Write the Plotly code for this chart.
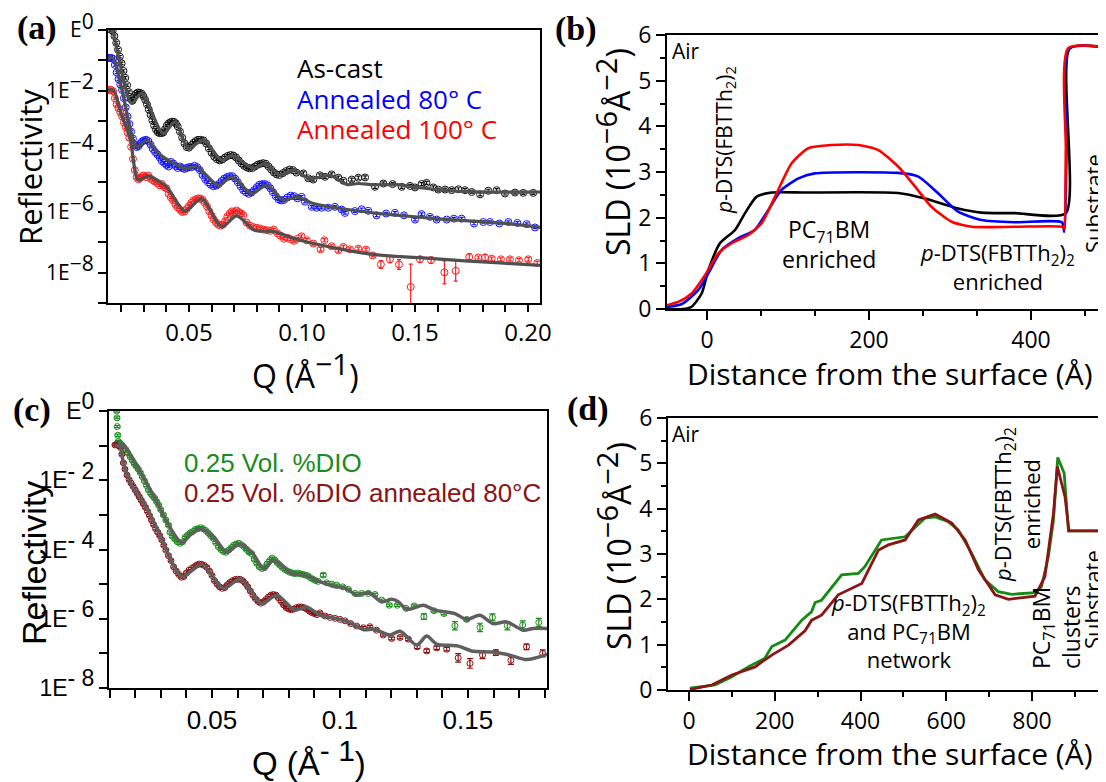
import numpy as np
import plotly.graph_objects as go

W, H = 1106, 782
OFF = 8  # the page body margin shifts the figure by 8 px; positions below are screen pixels

# ---------------- Panel (a): reflectivity, log10 values ----------------
a_q_black = [0.0155,0.0162,0.0170,0.0178,0.0186,0.0194,0.0202,0.0210,0.0218,0.0226,0.0234,0.0242,0.0250,0.0258,0.0266,0.0274,0.0282,0.0290,0.0298,0.0306,0.0314,0.0322,0.0330,0.0338,0.0346,0.0354,0.0362,0.0370,0.0378,0.0386,0.0394,0.0402,0.0410,0.0418,0.0426,0.0434,0.0442,0.0450,0.0460,0.0470,0.0480,0.0490,0.0500,0.0510,0.0520,0.0530,0.0540,0.0552,0.0564,0.0576,0.0588,0.0600,0.0612,0.0624,0.0636,0.0648,0.0660,0.0672,0.0684,0.0696,0.0708,0.0720,0.0732,0.0744,0.0756,0.0768,0.0780,0.0792,0.0804,0.0816,0.0828,0.0840,0.0852,0.0864,0.0876,0.0888,0.0900,0.0915,0.0930,0.0945,0.0960,0.0975,
             0.1006,0.1028,0.1050,0.1079,0.1102,0.1131,0.1161,0.1183,0.1220,0.1249,0.1279,0.1323,0.1360,0.1401,0.1441,0.1478,0.1500,0.1529,0.1551,0.1581,0.1603,0.1633,0.1662,0.1692,0.1721,0.1751,0.1788,0.1824,0.1861,0.1898,0.1942,0.1979,0.2023]
a_lg_black = [0.0,-0.02,-0.20,-0.42,-0.65,-0.88,-1.10,-1.35,-1.58,-1.82,-2.05,-2.28,-2.33,-2.18,-2.10,-2.06,-2.07,-2.10,-2.18,-2.30,-2.45,-2.62,-2.80,-2.98,-3.15,-3.28,-3.37,-3.40,-3.40,-3.38,-3.27,-3.15,-3.08,-3.04,-3.02,-3.03,-3.08,-3.18,-3.35,-3.55,-3.74,-3.86,-3.88,-3.80,-3.72,-3.66,-3.62,-3.62,-3.64,-3.74,-3.90,-4.05,-4.18,-4.26,-4.30,-4.27,-4.20,-4.15,-4.12,-4.14,-4.20,-4.30,-4.40,-4.48,-4.53,-4.56,-4.55,-4.50,-4.44,-4.41,-4.39,-4.41,-4.50,-4.60,-4.70,-4.76,-4.78,-4.72,-4.65,-4.60,-4.62,-4.70,
              -4.73,-4.89,-4.93,-4.79,-4.84,-4.76,-4.87,-4.97,-4.93,-4.87,-4.86,-5.17,-5.06,-5.08,-5.17,-5.14,-5.19,-5.08,-5.04,-5.19,-5.26,-5.26,-5.28,-5.25,-5.28,-5.34,-5.42,-5.30,-5.28,-5.39,-5.36,-5.37,-5.37]

a_q_blue = [0.0140,0.0148,0.0156,0.0164,0.0172,0.0180,0.0188,0.0196,0.0204,0.0212,0.0220,0.0228,0.0236,0.0244,0.0252,0.0260,0.0268,0.0276,0.0284,0.0292,0.0300,0.0310,0.0320,0.0330,0.0340,0.0350,0.0360,0.0370,0.0380,0.0390,0.0400,0.0410,0.0420,0.0430,0.0440,0.0450,0.0460,0.0470,0.0480,0.0490,0.0500,0.0512,0.0524,0.0536,0.0548,0.0560,0.0572,0.0584,0.0596,0.0608,0.0620,0.0632,0.0644,0.0656,0.0668,0.0680,0.0692,0.0704,0.0716,0.0728,0.0740,0.0752,0.0764,0.0776,0.0788,0.0800,0.0812,0.0824,0.0836,0.0848,0.0860,0.0872,0.0884,0.0896,0.0908,0.0920,0.0935,0.0950,0.0965,0.0980,
            0.0998,0.1013,0.1043,0.1065,0.1087,0.1116,0.1146,0.1175,0.1190,0.1234,0.1264,0.1293,0.1330,0.1372,0.1411,0.1451,0.1500,0.1529,0.1566,0.1596,0.1640,0.1672,0.1706,0.1761,0.1802,0.1832,0.1873,0.1913,0.1953,0.1994,0.2031]
a_lg_blue = [-0.93,-0.92,-0.92,-0.95,-1.15,-1.40,-1.62,-1.80,-1.98,-2.25,-2.55,-2.85,-3.10,-3.35,-3.58,-3.78,-3.86,-3.83,-3.74,-3.68,-3.64,-3.62,-3.66,-3.78,-3.92,-4.02,-4.10,-4.20,-4.32,-4.38,-4.45,-4.50,-4.35,-4.40,-4.48,-4.55,-4.50,-4.55,-4.58,-4.55,-4.52,-4.52,-4.48,-4.52,-4.62,-4.78,-4.92,-5.02,-5.10,-5.15,-5.13,-5.08,-4.98,-4.90,-4.85,-4.82,-4.82,-4.90,-5.02,-5.15,-5.28,-5.35,-5.40,-5.36,-5.28,-5.18,-5.10,-5.08,-5.08,-5.12,-5.22,-5.35,-5.48,-5.58,-5.62,-5.60,-5.52,-5.46,-5.48,-5.55,
             -5.50,-5.66,-5.83,-5.86,-5.86,-5.86,-5.83,-5.92,-6.03,-5.97,-5.91,-5.96,-6.11,-6.05,-6.03,-6.11,-6.25,-6.07,-6.16,-6.25,-6.25,-6.22,-6.22,-6.38,-6.33,-6.33,-6.38,-6.33,-6.36,-6.40,-6.51]

a_q_red = [0.0140,0.0148,0.0156,0.0164,0.0172,0.0180,0.0188,0.0196,0.0204,0.0212,0.0220,0.0228,0.0236,0.0244,0.0252,0.0260,0.0268,0.0276,0.0284,0.0292,0.0300,0.0310,0.0320,0.0330,0.0340,0.0350,0.0360,0.0370,0.0380,0.0390,0.0400,0.0410,0.0420,0.0430,0.0440,0.0450,0.0460,0.0470,0.0480,0.0490,0.0500,0.0510,0.0520,0.0530,0.0540,0.0550,0.0560,0.0570,0.0580,0.0590,0.0600,0.0610,0.0620,0.0630,0.0640,0.0650,0.0660,0.0670,0.0680,0.0690,0.0700,0.0710,0.0720,0.0730,0.0740,0.0755,0.0770,0.0785,0.0800,0.0815,0.0830,0.0845,0.0860,0.0875,0.0890,0.0905,0.0920,0.0935,0.0950,0.0965,0.0980,
           0.0998,0.1021,0.1050,0.1082,0.1099,0.1131,0.1161,0.1183,0.1212,0.1249,0.1283,0.1313,0.1349,0.1389,0.1429,0.1481,0.1522,0.1571,0.1630,0.1680,0.1740,0.1780,0.1810,0.1839,0.1880,0.1920,0.1960,0.2001,0.2041]
a_lg_red = [-1.98,-1.97,-1.98,-2.02,-2.25,-2.45,-2.58,-2.72,-2.85,-3.05,-3.20,-3.38,-3.55,-3.85,-4.25,-4.62,-4.85,-4.92,-4.88,-4.82,-4.80,-4.85,-4.80,-4.90,-4.95,-5.00,-5.05,-5.12,-5.08,-5.18,-5.22,-5.40,-5.52,-5.62,-5.75,-5.85,-5.92,-6.00,-5.98,-5.90,-5.80,-5.70,-5.62,-5.58,-5.55,-5.56,-5.60,-5.70,-5.82,-5.98,-6.12,-6.25,-6.35,-6.42,-6.45,-6.42,-6.30,-6.15,-6.05,-5.98,-6.00,-5.95,-6.00,-6.05,-6.10,-6.35,-6.45,-6.50,-6.52,-6.55,-6.58,-6.60,-6.62,-6.58,-6.70,-6.78,-6.88,-6.85,-6.90,-6.95,-6.88,
            -6.80,-6.93,-7.04,-7.23,-6.93,-7.13,-7.26,-7.15,-7.23,-7.21,-7.24,-7.43,-7.73,-7.56,-7.73,-8.47,-7.56,-7.59,-7.99,-7.94,-7.48,-7.50,-7.50,-7.54,-7.56,-7.56,-7.59,-7.56,-7.68]
# error bars (decades) for the high-Q points of each series
a_err_black_hi = [0.05]*33
a_err_blue_hi = [0.04]*31
a_err_red_hi = [0.05,0.05,0.05,0.06,0.05,0.05,0.06,0.05,0.05,0.05,0.05,0.05,0.13,0.11,0.16,0.75,0.10,0.10,0.38,0.34,0.10,0.05,0.10,0.05,0.05,0.05,0.05,0.06,0.05]

# fits (a)
a_fit_q_black = [0.0155,0.0162,0.0246,0.0290,0.0386,0.0438,0.0497,0.0563,0.0645,0.0689,0.0785,0.0836,0.0903,0.0961,0.1035,0.1124,0.1198,0.1250,0.1316,0.1420,0.1522,0.1729,0.2053]
a_fit_lg_black = [0.0,-0.05,-2.42,-2.09,-3.41,-3.03,-3.90,-3.63,-4.29,-4.13,-4.56,-4.40,-4.79,-4.62,-4.90,-4.79,-5.09,-5.06,-5.10,-5.10,-5.20,-5.33,-5.34]
a_fit_q_blue = [0.0140,0.0165,0.0202,0.0269,0.0313,0.0364,0.0423,0.0482,0.0534,0.0630,0.0689,0.0777,0.0844,0.0917,0.0977,0.1050,0.1287,0.1580,0.1876,0.2053]
a_fit_lg_blue = [-0.93,-0.93,-1.92,-3.85,-3.63,-4.07,-4.35,-4.56,-4.51,-5.12,-4.84,-5.39,-5.12,-5.61,-5.50,-5.72,-6.00,-6.21,-6.36,-6.51]
a_fit_q_red = [0.0140,0.0165,0.0202,0.0239,0.0276,0.0320,0.0400,0.0482,0.0556,0.0645,0.0711,0.0790,0.0873,0.0991,0.1287,0.1580,0.1876,0.2053]
a_fit_lg_red = [-1.98,-1.98,-2.81,-3.57,-4.95,-4.82,-5.17,-5.97,-5.56,-6.49,-6.13,-6.60,-6.64,-6.93,-7.37,-7.54,-7.68,-7.76]

# ---------------- Panel (b): SLD profiles ----------------
b_z_black = [-50,-30,-19,-6.6,1.6,16,34.6,46.9,61.3,79.8,120,236,269,310,339,380,443,448,500]
b_sld_black = [0.0,0.0,0.05,0.34,0.85,1.44,1.73,2.10,2.46,2.55,2.55,2.54,2.42,2.20,2.11,2.10,2.10,5.71,5.71]
b_z_blue = [-52,-31,-10.7,1.6,18,38.7,59,75.7,92,113,133,236,261,285.6,310,339,380,438,441,444,447,500]
b_sld_blue = [0.04,0.11,0.42,0.78,1.29,1.55,1.73,2.17,2.61,2.86,2.97,2.98,2.90,2.53,2.13,1.95,1.90,1.90,1.69,3.5,5.71,5.71]
b_z_red = [-52,-35,-19,-2.5,14,30.5,51,67.5,84,104.5,125,154,187,211.5,236,257,277,302,327,380,439,441,443,446,500]
b_sld_red = [0.07,0.16,0.34,0.74,1.22,1.44,1.62,1.88,2.46,3.19,3.52,3.59,3.59,3.48,3.12,2.68,2.24,1.91,1.80,1.80,1.80,1.75,3.5,5.71,5.71]

# ---------------- Panel (c): reflectivity, log10 values ----------------
c_q_green = [0.0128,0.0129,0.0130,0.0132,0.0134,0.0140,0.0148,0.0156,0.0164,0.0172,0.0180,0.0188,0.0196,0.0204,0.0212,0.0220,0.0228,0.0236,0.0244,0.0252,0.0260,0.0268,0.0276,0.0284,0.0292,0.0300,0.0310,0.0320,0.0330,0.0336,0.0345,0.0355,0.0365,0.0375,0.0385,0.0395,0.0405,0.0415,0.0425,0.0435,0.0445,0.0455,0.0465,0.0475,0.0485,0.0495,0.0505,0.0515,0.0525,0.0535,0.0545,0.0555,0.0565,0.0575,0.0585,0.0595,0.0605,0.0615,0.0625,0.0635,0.0645,0.0655,0.0665,0.0675,0.0685,0.0695,0.0705,0.0715,0.0725,0.0735,0.0745,0.0755,0.0765,0.0775,0.0785,0.0795,0.0805,0.0815,0.0825,0.0835,0.0845,0.0855,0.0865,0.0875,0.0885,0.0895,0.0905,0.0915,
             0.0935,0.0948,0.0968,0.0987,0.1011,0.1033,0.1059,0.1085,0.1111,0.1137,0.1163,0.1193,0.1224,0.1258,0.1290,0.1328,0.1367,0.1406,0.1449,0.1495,0.1547,0.1596,0.1654,0.1714,0.1777]
c_lg_green = [0.0,-0.2,-0.45,-0.7,-0.88,-0.92,-0.98,-1.05,-1.12,-1.22,-1.32,-1.42,-1.52,-1.60,-1.68,-1.78,-1.90,-2.02,-2.15,-2.28,-2.38,-2.45,-2.52,-2.62,-2.72,-2.85,-3.00,-3.15,-3.30,-3.50,-3.62,-3.70,-3.78,-3.82,-3.78,-3.65,-3.58,-3.52,-3.48,-3.42,-3.40,-3.37,-3.40,-3.45,-3.52,-3.60,-3.68,-3.80,-3.92,-4.00,-4.06,-4.08,-4.02,-3.95,-3.88,-3.84,-3.82,-3.86,-3.92,-4.00,-4.08,-4.12,-4.28,-4.40,-4.50,-4.55,-4.52,-4.42,-4.32,-4.25,-4.30,-4.38,-4.45,-4.52,-4.58,-4.62,-4.66,-4.68,-4.70,-4.68,-4.70,-4.72,-4.74,-4.76,-4.82,-4.86,-4.90,-4.92,
              -4.74,-4.96,-5.00,-5.03,-5.08,-5.15,-5.27,-5.27,-5.27,-5.30,-5.46,-5.61,-5.61,-5.70,-5.63,-5.94,-5.77,-5.85,-6.20,-6.02,-6.25,-5.96,-6.20,-6.18,-6.11]
c_err_green_hi = [0.05,0.03,0.03,0.03,0.03,0.03,0.03,0.03,0.03,0.03,0.03,0.03,0.03,0.03,0.03,0.08,0.04,0.04,0.12,0.05,0.12,0.10,0.12,0.12,0.12]

c_q_dred = [0.0121,0.0128,0.0135,0.0142,0.0148,0.0154,0.0160,0.0168,0.0176,0.0184,0.0192,0.0200,0.0208,0.0216,0.0224,0.0232,0.0240,0.0248,0.0256,0.0264,0.0272,0.0280,0.0288,0.0296,0.0304,0.0312,0.0320,0.0330,0.0340,0.0350,0.0360,0.0370,0.0380,0.0390,0.0400,0.0410,0.0420,0.0430,0.0440,0.0450,0.0460,0.0470,0.0480,0.0490,0.0500,0.0510,0.0520,0.0530,0.0540,0.0550,0.0560,0.0570,0.0580,0.0590,0.0600,0.0610,0.0620,0.0630,0.0640,0.0650,0.0660,0.0670,0.0680,0.0690,0.0700,0.0710,0.0720,0.0730,0.0740,0.0750,0.0760,0.0770,0.0780,0.0790,0.0800,0.0810,0.0820,0.0830,0.0840,0.0850,0.0860,0.0870,0.0880,0.0890,0.0900,0.0910,
            0.0922,0.0942,0.0961,0.0981,0.1000,0.1020,0.1042,0.1065,0.1091,0.1117,0.1143,0.1169,0.1202,0.1235,0.1267,0.1302,0.1339,0.1378,0.1417,0.1462,0.1508,0.1557,0.1609,0.1668,0.1729,0.1792]
c_lg_dred = [-0.98,-0.97,-1.00,-1.05,-1.25,-1.50,-1.68,-1.85,-1.98,-2.08,-2.18,-2.28,-2.38,-2.48,-2.58,-2.68,-2.78,-2.90,-3.02,-3.15,-3.28,-3.40,-3.50,-3.60,-3.72,-3.88,-4.02,-4.18,-4.32,-4.50,-4.62,-4.72,-4.80,-4.78,-4.68,-4.60,-4.55,-4.50,-4.45,-4.42,-4.43,-4.46,-4.52,-4.62,-4.75,-4.90,-5.00,-5.08,-5.12,-5.10,-5.02,-4.95,-4.90,-4.87,-4.86,-4.86,-4.90,-4.98,-5.08,-5.20,-5.32,-5.42,-5.50,-5.55,-5.52,-5.45,-5.38,-5.32,-5.30,-5.32,-5.40,-5.50,-5.60,-5.68,-5.72,-5.74,-5.72,-5.68,-5.66,-5.66,-5.68,-5.72,-5.78,-5.82,-5.85,-5.88,
             -5.83,-5.92,-5.96,-5.99,-6.02,-6.06,-6.14,-6.21,-6.26,-6.23,-6.33,-6.47,-6.57,-6.54,-6.59,-6.81,-6.93,-6.84,-6.88,-7.13,-7.29,-7.05,-6.98,-7.20,-6.81,-7.00]
c_err_dred_hi = [0.03,0.03,0.03,0.03,0.03,0.03,0.03,0.03,0.03,0.03,0.03,0.03,0.04,0.04,0.04,0.05,0.05,0.05,0.05,0.12,0.14,0.10,0.08,0.12,0.08,0.10]

c_fit_q_green = [0.0134,0.0160,0.0212,0.0277,0.0330,0.0382,0.0421,0.0460,0.0512,0.0557,0.0607,0.0655,0.0704,0.0740,0.0811,0.0863,0.0922,0.0974,0.1026,0.1065,0.1111,0.1163,0.1202,0.1228,0.1261,0.1326,0.1371,0.1449,0.1495,0.1547,0.1599,0.1651,0.1716,0.1755,0.1810]
c_fit_lg_green = [-0.89,-1.03,-1.66,-2.52,-3.29,-3.80,-3.54,-3.41,-3.68,-4.08,-3.84,-4.07,-4.57,-4.31,-4.69,-4.74,-4.93,-5.06,-5.13,-5.32,-5.24,-5.51,-5.44,-5.51,-5.73,-5.61,-5.75,-5.85,-6.02,-5.90,-6.14,-6.09,-6.33,-6.28,-6.28]
c_fit_q_dred = [0.0121,0.0141,0.0154,0.0186,0.0238,0.0297,0.0342,0.0384,0.0460,0.0544,0.0610,0.0694,0.0753,0.0824,0.0870,0.0922,0.0961,0.1026,0.1091,0.1137,0.1195,0.1235,0.1300,0.1339,0.1378,0.1462,0.1514,0.1599,0.1664,0.1729,0.1810]
c_fit_lg_dred = [-1.00,-1.03,-1.51,-2.14,-2.72,-3.58,-4.35,-4.79,-4.43,-5.12,-4.86,-5.56,-5.32,-5.75,-5.66,-5.90,-5.96,-6.07,-6.31,-6.31,-6.47,-6.36,-6.76,-6.50,-6.73,-6.79,-6.93,-6.96,-7.05,-7.18,-7.03]

# ---------------- Panel (d): SLD profiles ----------------
d_z_green = [2,61,100,138,177,193,224,263,286,294,309,356,395,410,449,488,504,550,574,605,628,659,690,721,753,807,822,838,850,860,875,885,975]
d_sld_green = [0.04,0.11,0.29,0.51,0.70,0.96,1.10,1.54,1.73,1.93,1.98,2.54,2.57,2.72,3.31,3.36,3.38,3.79,3.82,3.71,3.53,3.02,2.43,2.17,2.11,2.15,2.28,2.94,3.75,5.13,4.78,3.51,3.51]
d_z_dred = [2,53,100,154,170,193,232,271,286,309,348,379,403,442,465,504,535,574,613,644,675,714,745,807,830,850,859,877,886,975]
d_sld_dred = [0.01,0.11,0.33,0.51,0.62,0.77,0.99,1.31,1.54,1.65,2.10,2.24,2.35,3.09,3.20,3.31,3.75,3.88,3.68,3.31,2.65,2.10,2.00,2.07,2.50,3.90,4.93,4.26,3.51,3.51]

# ------------------------------------------------------------------------
def X(px):
    return (px - OFF) / W

def Y(py):
    return 1 - (py - OFF) / H

def pw(v):
    return np.power(10.0, np.array(v, dtype=float))

def errs(lg, e):
    r = pw(lg)
    e = np.array(e, dtype=float)
    return r * (np.power(10.0, e) - 1.0), r * (1.0 - np.power(10.0, -e))

fig = go.Figure()

def data_trace(q, lg, e, color, xa, ya, size=7, lw=1.0, capw=2):
    up, dn = errs(lg, e)
    fig.add_trace(go.Scatter(
        x=q, y=pw(lg), mode="markers", xaxis=xa, yaxis=ya, showlegend=False,
        marker=dict(symbol="circle-open", size=size, color=color, line=dict(width=lw, color=color)),
        error_y=dict(type="data", symmetric=False, array=up, arrayminus=dn,
                     color=color, thickness=1.2, width=capw)))

def fit_trace(q, lg, xa, ya, color="#505050", width=3.2, shape="spline"):
    fig.add_trace(go.Scatter(x=q, y=pw(lg), mode="lines", xaxis=xa, yaxis=ya, showlegend=False,
                             line=dict(color=color, width=width, shape=shape, smoothing=0.8)))

# (a)
nb = len(a_q_black) - len(a_err_black_hi)
data_trace(a_q_black, a_lg_black, [0.04]*nb + a_err_black_hi, "#111111", "x", "y")
nb = len(a_q_blue) - len(a_err_blue_hi)
data_trace(a_q_blue, a_lg_blue, [0.04]*nb + a_err_blue_hi, "#1010ff", "x", "y")
nb = len(a_q_red) - len(a_err_red_hi)
data_trace(a_q_red, a_lg_red, [0.04]*nb + a_err_red_hi, "#ff1a1a", "x", "y")
fit_trace(a_fit_q_black, a_fit_lg_black, "x", "y")
fit_trace(a_fit_q_blue, a_fit_lg_blue, "x", "y")
fit_trace(a_fit_q_red, a_fit_lg_red, "x", "y")

# (b)
for z, s, col in [(b_z_black, b_sld_black, "#000000"), (b_z_blue, b_sld_blue, "#0000ff"), (b_z_red, b_sld_red, "#ff0000")]:
    fig.add_trace(go.Scatter(x=z, y=s, mode="lines", xaxis="x2", yaxis="y2", showlegend=False,
                             line=dict(color=col, width=2.6, shape="spline", smoothing=0.6)))

# (c)
nb = len(c_q_green) - len(c_err_green_hi)
data_trace(c_q_green, c_lg_green, [0.03]*nb + c_err_green_hi, "#1a8c1a", "x3", "y3", size=6, capw=3)
nb = len(c_q_dred) - len(c_err_dred_hi)
data_trace(c_q_dred, c_lg_dred, [0.03]*nb + c_err_dred_hi, "#8b1010", "x3", "y3", size=6, capw=3)
fit_trace(c_fit_q_green, c_fit_lg_green, "x3", "y3", color="#5f5f5f", width=3.5)
fit_trace(c_fit_q_dred, c_fit_lg_dred, "x3", "y3", color="#5f5f5f", width=3.5)

# (d)
for z, s, col in [(d_z_green, d_sld_green, "#158a15"), (d_z_dred, d_sld_dred, "#8b1414")]:
    fig.add_trace(go.Scatter(x=z, y=s, mode="lines", xaxis="x4", yaxis="y4", showlegend=False,
                             line=dict(color=col, width=2.8)))

OS = "Open Sans"
LS = "Liberation Sans"

def base_axis(font, size):
    return dict(showline=True, linecolor="black", linewidth=2, ticks="outside", tickwidth=2,
                tickcolor="black", ticklen=8, showgrid=False, zeroline=False, automargin=False,
                ticklabeloverflow="allow",
                tickfont=dict(family=font, size=size, color="black"))

def sup(t, s):
    return f'<sup><span style="font-size:{s}px">{t}</span></sup>'

# log tick labels
a_tv = [10.0**(-k) for k in range(0, 10)]
a_tt = ["E" + sup("0", 21)] + [("1E" + sup("\u2212" + str(k), 21)) if k % 2 == 0 else "" for k in range(1, 10)]
c_tv = [10.0**(-k) for k in range(0, 9)]
c_tt = ["E" + sup("0", 23)] + [("1E" + sup("- " + str(k), 23)) if k % 2 == 0 else "" for k in range(1, 9)]

a_xt = [round(0.02 + 0.01*i, 2) for i in range(19)]
a_xl = [("%.2f" % v) if abs(v*100 % 5) < 1e-6 else "" for v in a_xt]
c_xt = [round(0.01 + 0.01*i, 2) for i in range(18)]
c_xl_map = {0.05: "0.05", 0.1: "0.1", 0.15: "0.15"}
c_xl = [c_xl_map.get(v, "") for v in c_xt]

xa = base_axis(OS, 24); xa.update(domain=[X(108), X(540)], anchor="y", range=[0.01416, 0.2053],
                                  tickmode="array", tickvals=a_xt, ticktext=a_xl, mirror=True, ticklen=7)
ya = base_axis(OS, 21); ya.update(domain=[Y(303), Y(30)], anchor="x", type="log", range=[-9, 0],
                                  tickmode="array", tickvals=a_tv, ticktext=a_tt, mirror=True, ticklen=8)

xb = base_axis(OS, 23); xb.update(domain=[X(667), X(1106)], anchor="y2", range=[-49.4, 492.6], tick0=0, dtick=200,
                                  mirror=True, ticklen=9,
                                  minor=dict(tick0=0, dtick=200/3, ticks="outside", ticklen=5, tickwidth=2, tickcolor="black"))
yb = base_axis(OS, 23); yb.update(domain=[Y(309), Y(35)], anchor="x2", range=[0, 6], dtick=1, ticklen=9,
                                  minor=dict(dtick=0.5, ticks="outside", ticklen=5, tickwidth=2, tickcolor="black"))

xc = base_axis(LS, 26); xc.update(domain=[X(109), X(547)], anchor="y3", range=[0.00977, 0.1809],
                                  tickmode="array", tickvals=c_xt, ticktext=c_xl, mirror=True, ticklen=8)
yc = base_axis(LS, 23); yc.update(domain=[Y(688), Y(411)], anchor="x3", type="log", range=[-8, 0],
                                  tickmode="array", tickvals=c_tv, ticktext=c_tt, mirror=True, ticklen=8)

xd = base_axis(OS, 23); xd.update(domain=[X(668), X(1106)], anchor="y4", range=[-49, 972.5], tick0=0, dtick=200,
                                  mirror=True, ticklen=9,
                                  minor=dict(tick0=0, dtick=100, ticks="outside", ticklen=5, tickwidth=2, tickcolor="black"))
yd = base_axis(OS, 23); yd.update(domain=[Y(690), Y(418)], anchor="x4", range=[0, 6], dtick=1, ticklen=9,
                                  minor=dict(dtick=0.5, ticks="outside", ticklen=5, tickwidth=2, tickcolor="black"))

anns = []
def ann(text, x, y, size, color="black", font=OS, angle=0, align="center", xanchor="center", yanchor="middle"):
    anns.append(dict(text=text, x=X(x), y=Y(y), xref="paper", yref="paper", showarrow=False,
                     font=dict(family=font, size=size, color=color), textangle=angle,
                     align=align, xanchor=xanchor, yanchor=yanchor))

SERIF = "Liberation Serif"
ann("<b>(a)</b>", 37, 28, 34, font=SERIF)
ann("<b>(b)</b>", 576, 29, 34, font=SERIF)
ann("<b>(c)</b>", 32, 410, 34, font=SERIF)
ann("<b>(d)</b>", 588, 409, 34, font=SERIF)

# axis titles
ann("Reflectivity", 30, 167, 31, angle=-90)
ann("Q (Å" + sup("\u22121", 30) + ")", 305, 370, 32)
ann("SLD (10" + sup("\u22126", 29) + "Å" + sup("\u22122", 29) + ")", 612, 152, 32, angle=-90)
ann("Distance from the surface (Å)", 890, 373, 30)
ann("Reflectivity", 34, 563, 34, font=LS, angle=-90)
ann("Q (Å" + sup("- 1", 30) + ")", 309, 758, 33, font=LS)
ann("SLD (10" + sup("\u22126", 29) + "Å" + sup("\u22122", 29) + ")", 613, 546, 32, angle=-90)
ann("Distance from the surface (Å)", 890, 753, 30)

# legends (text)
ann("As-cast", 295, 68, 26, xanchor="left")
ann("Annealed 80° C", 295, 99, 26, color="#0000ff", xanchor="left")
ann("Annealed 100° C", 295, 129, 26, color="#ff0000", xanchor="left")
ann("0.25 Vol. %DIO", 182, 463, 26, color="#1a8c1a", font=LS, xanchor="left")
ann("0.25 Vol. %DIO annealed 80°C", 182, 493, 26, color="#8b1414", font=LS, xanchor="left")

# panel (b) labels
PD = "<i>p</i>-DTS(FBTTh<sub>2</sub>)<sub>2</sub>"
PC = "PC<sub>71</sub>BM"
ann("Air", 686, 51, 21)
ann(PD, 725, 140, 21, angle=-90)
ann(PC + "<br>enriched", 829, 244, 23)
ann(PD + "<br>enriched", 997, 266, 22)
ann("Substrate", 1093, 204, 22, angle=-90)

# panel (d) labels
ann("Air", 686, 434, 21)
ann(PD + "<br>enriched", 1016, 505, 22, angle=-90)
ann(PD + "<br>and " + PC + "<br>network", 908, 630, 22)
ann(PC + "<br>clusters", 1056, 628, 23, angle=-90, align="left")
ann("Substrate", 1092, 600, 22, angle=-90)

fig.update_layout(
    width=W, height=H, margin=dict(l=0, r=0, t=0, b=0, autoexpand=False),
    paper_bgcolor="white", plot_bgcolor="white",
    xaxis=xa, yaxis=ya, xaxis2=xb, yaxis2=yb, xaxis3=xc, yaxis3=yc, xaxis4=xd, yaxis4=yd,
    annotations=anns, showlegend=False,
)

fig.write_html("out.html")
